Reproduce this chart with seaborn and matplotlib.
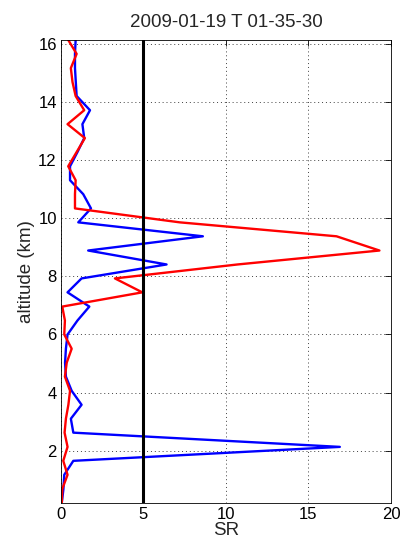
import numpy as np
import pandas as pd
import matplotlib
matplotlib.use("Agg")
import matplotlib.pyplot as plt
import seaborn as sns

# altitude levels (km), bottom to top
altitude = [0.20, 0.68, 1.17, 1.65, 2.13, 2.62, 3.10, 3.58, 4.06, 4.55,
            5.03, 5.51, 6.00, 6.48, 6.96, 7.45, 7.93, 8.41, 8.89, 9.38,
            9.86, 10.34, 10.83, 11.31, 11.79, 12.28, 12.76, 13.24, 13.72, 14.21,
            14.69, 15.17, 15.66, 16.14]

# scattering ratio, blue profile
sr_blue = [0.05, 0.15, 0.20, 0.75, 16.9, 0.75, 0.60, 1.25, 0.65, 0.30,
           0.25, 0.30, 0.40, 1.00, 1.72, 0.40, 1.25, 6.40, 1.65, 8.60,
           1.05, 1.82, 1.35, 0.55, 0.55, 1.00, 1.41, 1.30, 1.76, 0.95,
           0.90, 0.85, 0.85, 0.89]

# scattering ratio, red profile
sr_red = [0.05, 0.08, 0.40, 0.14, 0.40, 0.22, 0.30, 0.45, 0.55, 0.24,
          0.35, 0.65, 0.20, 0.24, 0.08, 4.93, 3.27, 10.7, 19.3, 16.7,
          7.20, 0.85, 0.85, 0.89, 0.44, 0.95, 1.45, 0.40, 1.41, 0.89,
          0.70, 0.60, 0.95, 0.44]

threshold = 5

df = pd.DataFrame({"alt": altitude, "blue": sr_blue, "red": sr_red})

sns.set_style("white")
plt.rcParams["font.family"] = ["Liberation Sans", "DejaVu Sans"]
plt.rcParams["xtick.direction"] = "in"
plt.rcParams["ytick.direction"] = "in"

fig = plt.figure(figsize=(4.01, 5.47), dpi=100)
ax = fig.add_axes([0.152, 0.080, 0.823, 0.847])

sns.lineplot(data=df, x="blue", y="alt", sort=False, estimator=None,
             color="#0000ff", linewidth=1.7, ax=ax)
sns.lineplot(data=df, x="red", y="alt", sort=False, estimator=None,
             color="#ff0000", linewidth=1.7, ax=ax)
ax.axvline(threshold, color="black", linewidth=2.2)

ax.set_xlim(0, 20)
ax.set_ylim(0.19, 16.14)
ax.set_xticks([0, 5, 10, 15, 20])
ax.set_yticks([2, 4, 6, 8, 10, 12, 14, 16])
ax.grid(True, linestyle=(0, (1, 3)), color="#404040", linewidth=0.7)
ax.tick_params(labelsize=12, length=4, width=0.6, colors="black",
               top=True, right=True, pad=3)
for s in ax.spines.values():
    s.set_color("black")
    s.set_linewidth(0.6)

ax.set_title("2009-01-19 T 01-35-30", fontsize=13.5, pad=9)
ax.set_xlabel("SR", fontsize=13.5, labelpad=0)
ax.set_ylabel("altitude (km)", fontsize=13.5, labelpad=2)

fig.savefig("out.png", dpi=100)
